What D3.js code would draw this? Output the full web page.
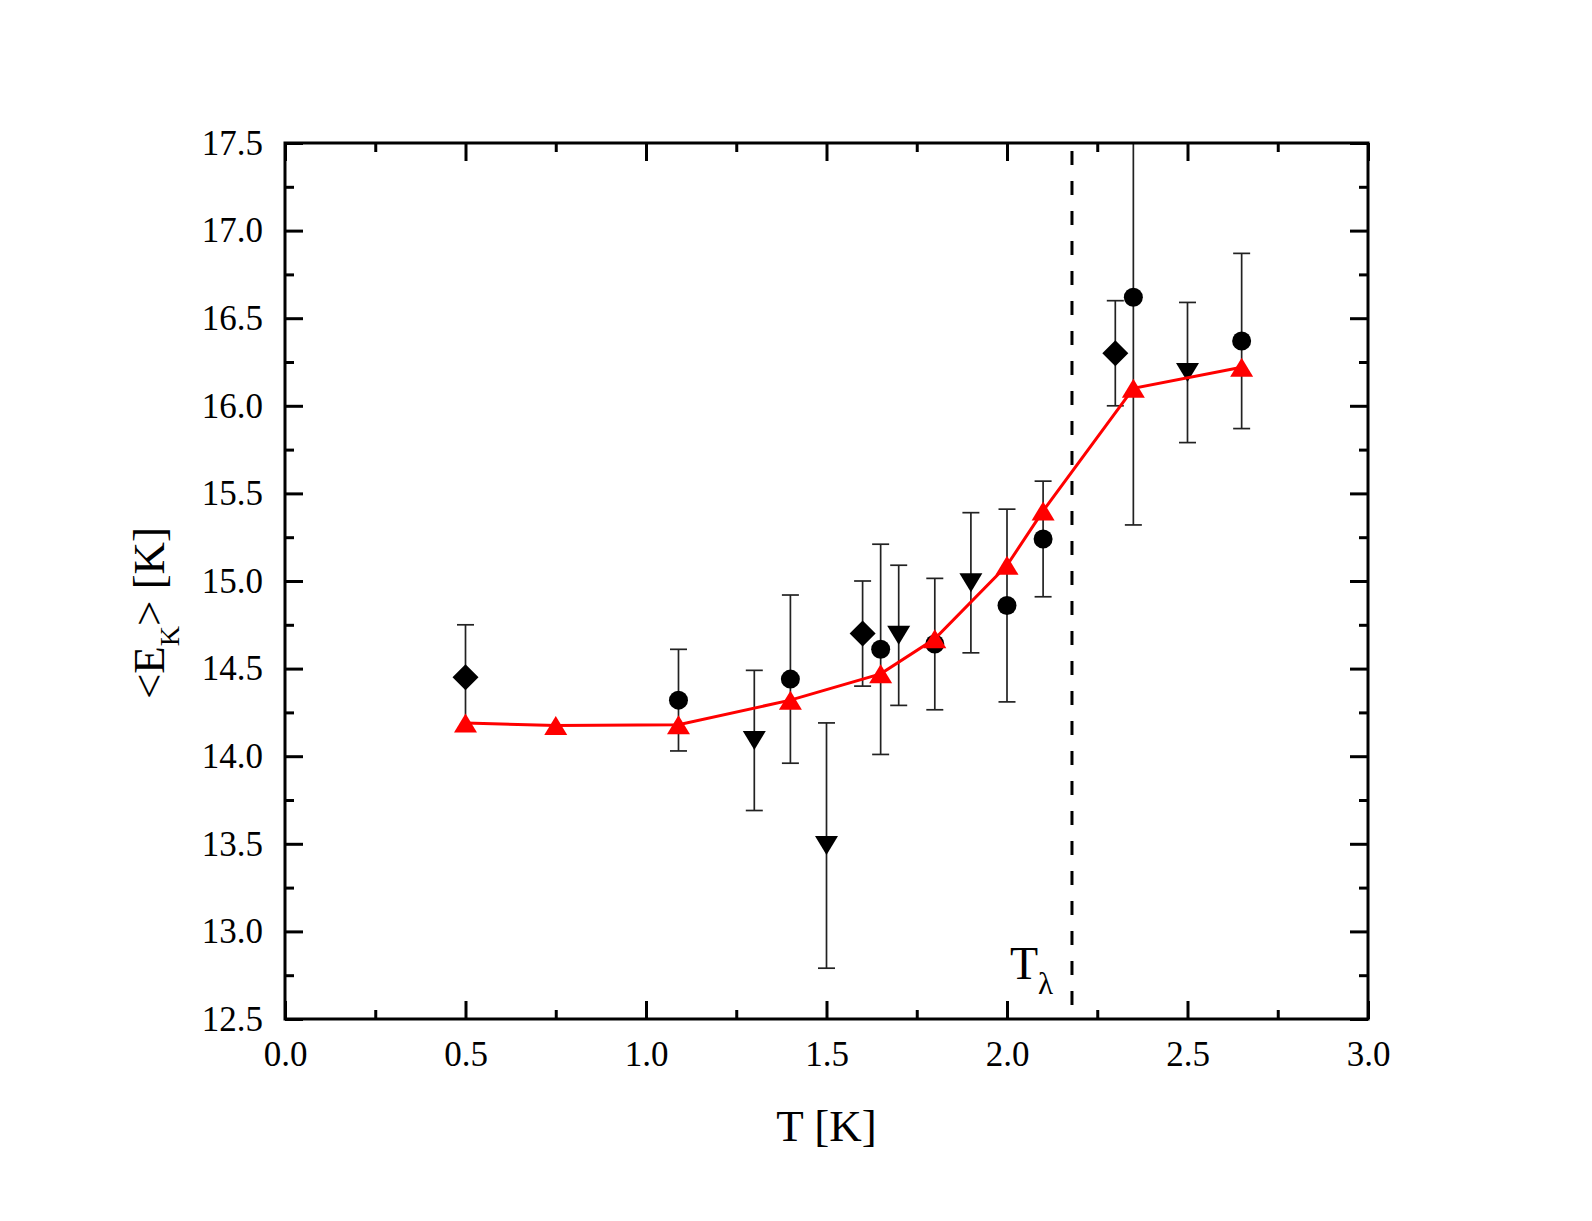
<!DOCTYPE html>
<html>
<head>
<meta charset="utf-8">
<script src="https://cdn.jsdelivr.net/npm/d3@7"></script>
<style>
  body { margin: 0; background: #fff; }
  svg text { font-family: "Liberation Serif", "Times New Roman", serif; fill: #000; }
</style>
</head>
<body>
<svg id="chart"></svg>
<script>
// red line (simulation)
const lineT = [0.5, 0.75, 1.09, 1.4, 1.65, 1.8, 2.0, 2.1, 2.35, 2.65];
const lineE = [14.19, 14.175, 14.18, 14.32, 14.47, 14.67, 15.09, 15.40, 16.10, 16.22];

// circles
const circT = [1.09, 1.4, 1.65, 1.8, 2.0, 2.1, 2.35, 2.65];
const circE = [14.32, 14.44, 14.61, 14.64, 14.86, 15.24, 16.62, 16.37];
const circErr = [0.29, 0.48, 0.6, 0.375, 0.55, 0.33, 1.3, 0.5];

// down triangles
const downT = [1.3, 1.5, 1.7, 1.9, 2.5];
const downE = [14.09, 13.49, 14.69, 14.99, 16.19];
const downErr = [0.4, 0.7, 0.4, 0.4, 0.4];

// diamonds
const diaT = [0.5, 1.6, 2.3];
const diaE = [14.45, 14.70, 16.30];
const diaErr = [0.3, 0.3, 0.3];

const xTicks = [0, 0.5, 1.0, 1.5, 2.0, 2.5, 3.0];
const yTicks = [12.5, 13.0, 13.5, 14.0, 14.5, 15.0, 15.5, 16.0, 16.5, 17.0, 17.5];
const tLambda = 2.18;

const W = 1592, H = 1221;
const margin = { top: 143, right: 224, bottom: 202, left: 285 };
const width = W - margin.left - margin.right,
    height = H - margin.top - margin.bottom;

const svg = d3.select("#chart").attr("width", W).attr("height", H);
const g = svg.append("g")
    .attr("transform", "translate(" + margin.left + "," + margin.top + ")");

const x = d3.scaleLinear().domain([0, 3]).range([0, width]);
const y = d3.scaleLinear().domain([12.5, 17.5]).range([height, 0]);

const xMinor = d3.range(0.25, 3, 0.5);
const yMinor = d3.range(12.75, 17.5, 0.5);

// ticks on all sides, pointing inward
const styleAxis = sel => {
    sel.select(".domain").remove();
    sel.selectAll(".tick line").attr("stroke", "#000").attr("stroke-width", 3);
    sel.selectAll(".tick text").style("font-size", "35px");
};

g.append("g").attr("transform", "translate(0," + height + ")")
    .call(d3.axisBottom(x).tickValues(xTicks).tickSize(-18).tickPadding(22)
        .tickFormat(d3.format(".1f")))
    .call(styleAxis);
g.append("g").attr("transform", "translate(0," + height + ")")
    .call(d3.axisBottom(x).tickValues(xMinor).tickSize(-9).tickFormat(""))
    .call(styleAxis);
g.append("g")
    .call(d3.axisTop(x).tickValues(xTicks).tickSize(-18).tickFormat(""))
    .call(styleAxis);
g.append("g")
    .call(d3.axisTop(x).tickValues(xMinor).tickSize(-9).tickFormat(""))
    .call(styleAxis);

g.append("g")
    .call(d3.axisLeft(y).tickValues(yTicks).tickSize(-18).tickPadding(22)
        .tickFormat(d3.format(".1f")))
    .call(styleAxis);
g.append("g")
    .call(d3.axisLeft(y).tickValues(yMinor).tickSize(-9).tickFormat(""))
    .call(styleAxis);
g.append("g").attr("transform", "translate(" + width + ",0)")
    .call(d3.axisRight(y).tickValues(yTicks).tickSize(-18).tickFormat(""))
    .call(styleAxis);
g.append("g").attr("transform", "translate(" + width + ",0)")
    .call(d3.axisRight(y).tickValues(yMinor).tickSize(-9).tickFormat(""))
    .call(styleAxis);

svg.append("defs").append("clipPath").attr("id", "clip")
    .append("rect").attr("width", width).attr("height", height);

const plot = g.append("g").attr("clip-path", "url(#clip)");

// T lambda dashed line
plot.append("line")
    .attr("x1", x(tLambda)).attr("x2", x(tLambda))
    .attr("y1", 0).attr("y2", height)
    .attr("stroke", "#000").attr("stroke-width", 3)
    .attr("stroke-dasharray", "14,16")
    .attr("stroke-dashoffset", -8);

// error bars
const errData = [];
circT.forEach((t, i) => errData.push({ t: t, e: circE[i], err: circErr[i] }));
downT.forEach((t, i) => errData.push({ t: t, e: downE[i], err: downErr[i] }));
diaT.forEach((t, i) => errData.push({ t: t, e: diaE[i], err: diaErr[i] }));

const capW = 8.5;
const eb = plot.selectAll(".err").data(errData).enter().append("g")
    .attr("stroke", "#222").attr("stroke-width", 1.7);
eb.append("line")
    .attr("x1", d => x(d.t)).attr("x2", d => x(d.t))
    .attr("y1", d => y(d.e - d.err)).attr("y2", d => y(d.e + d.err));
eb.append("line")
    .attr("x1", d => x(d.t) - capW).attr("x2", d => x(d.t) + capW)
    .attr("y1", d => y(d.e + d.err)).attr("y2", d => y(d.e + d.err));
eb.append("line")
    .attr("x1", d => x(d.t) - capW).attr("x2", d => x(d.t) + capW)
    .attr("y1", d => y(d.e - d.err)).attr("y2", d => y(d.e - d.err));

// black markers
plot.selectAll(".circ").data(circT).enter().append("circle")
    .attr("cx", d => x(d)).attr("cy", (d, i) => y(circE[i]))
    .attr("r", 9.5).attr("fill", "#000");

const downPath = "M-11.5,-9.5L11.5,-9.5L0,9.5Z";
plot.selectAll(".down").data(downT).enter().append("path")
    .attr("d", downPath)
    .attr("transform", (d, i) => "translate(" + x(d) + "," + y(downE[i]) + ")")
    .attr("fill", "#000");

const diaPath = "M0,-13L13,0L0,13L-13,0Z";
plot.selectAll(".dia").data(diaT).enter().append("path")
    .attr("d", diaPath)
    .attr("transform", (d, i) => "translate(" + x(d) + "," + y(diaE[i]) + ")")
    .attr("fill", "#000");

// red line with up triangles
const line = d3.line().x(d => x(d[0])).y(d => y(d[1]));
const redPts = lineT.map((t, i) => [t, lineE[i]]);
plot.append("path")
    .attr("d", line(redPts))
    .attr("fill", "none").attr("stroke", "#ff0000").attr("stroke-width", 3);

const upPath = "M-11.5,9.5L11.5,9.5L0,-9.5Z";
plot.selectAll(".up").data(redPts).enter().append("path")
    .attr("d", upPath)
    .attr("transform", d => "translate(" + x(d[0]) + "," + y(d[1]) + ")")
    .attr("fill", "#ff0000");

// frame
g.append("rect")
    .attr("width", width).attr("height", height)
    .attr("fill", "none").attr("stroke", "#000").attr("stroke-width", 3);

// T lambda label
const tl = g.append("text")
    .attr("x", x(tLambda) - 62).attr("y", height - 40)
    .style("font-size", "46px");
tl.append("tspan").text("T");
tl.append("tspan").attr("dy", 15).style("font-size", "31px").text("\u03bb");

// axis titles
g.append("text")
    .attr("x", width / 2).attr("y", height + 122)
    .attr("text-anchor", "middle")
    .style("font-size", "45px")
    .text("T [K]");

const yt = g.append("text")
    .attr("transform", "translate(" + (164 - margin.left) + "," + (613 - margin.top) + ") rotate(-90)")
    .attr("text-anchor", "middle")
    .style("font-size", "45px");
yt.append("tspan").text("<E");
yt.append("tspan").attr("dy", 15).style("font-size", "28px").text("K");
yt.append("tspan").attr("dy", -15).text("> [K]");
</script>
</body>
</html>
